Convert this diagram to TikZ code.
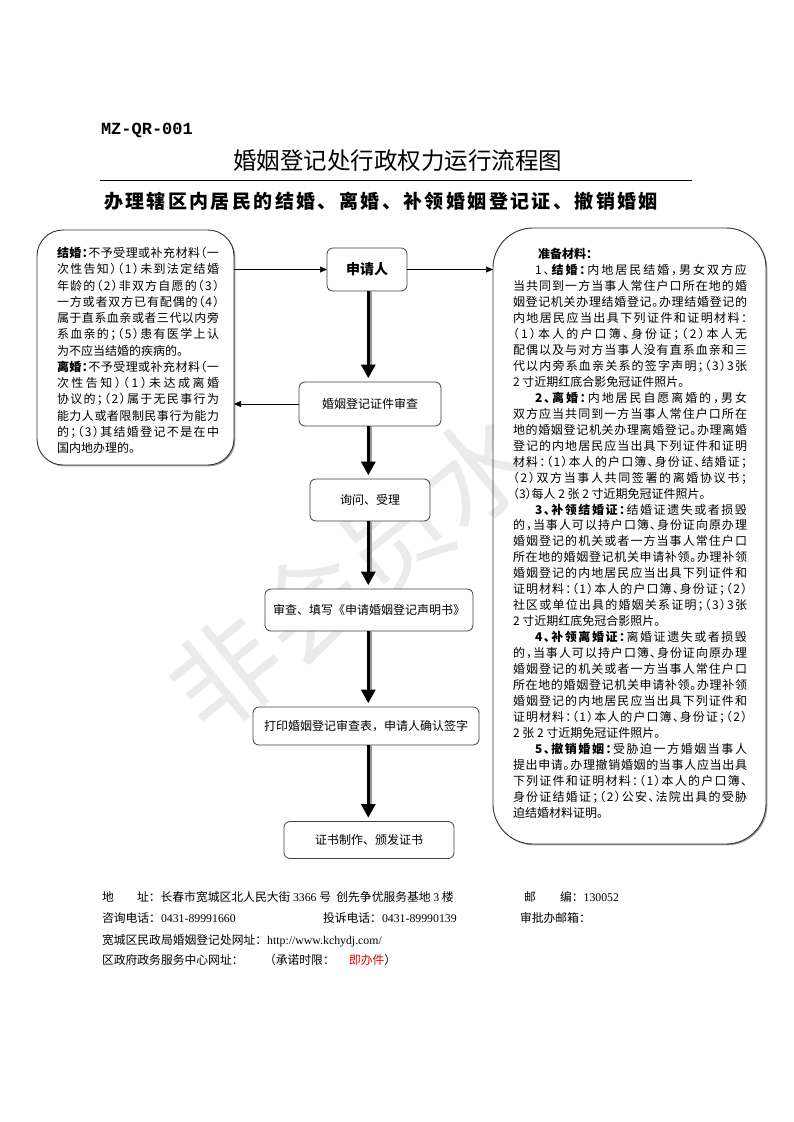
\documentclass[tikz,border=0pt]{standalone}
\usepackage{fontspec}
\setmainfont{Noto Sans CJK SC}
\newfontfamily\cjkj[RawFeature=+halt]{Noto Sans CJK SC}
\newfontfamily\serifl{Liberation Serif}
\newfontfamily\monof{Liberation Mono}
\usetikzlibrary{arrows.meta,calc,shadows}

\newdimen\jw
\makeatletter
\def\spr#1{\spr@a#1\spr@end}
\def\spr@end{\spr@endx}
\def\spr@endx{}
\def\spr@a#1{\ifx#1\spr@end\else#1\expandafter\spr@b\fi}
\def\spr@b#1{\ifx#1\spr@end\else\ifcat\noexpand#1\relax\else\hfil\fi#1\expandafter\spr@b\fi}
\makeatother
\newcommand\jrow[2][]{\hbox to \jw{#1\spr{#2}}}
\newcommand\lrow[1]{\hbox{#1}}

\begin{document}
\begin{tikzpicture}[x=1pt,y=-1pt,
  every node/.style={inner sep=0pt,outer sep=0pt},
  flowbox/.style={draw=black!75,line width=0.8pt,rounded corners=6pt,fill=white,align=center,font=\fontsize{12}{14}\selectfont},
  bigbox/.style={draw=black!80,line width=0.9pt,fill=white,drop shadow={shadow xshift=1.3pt,shadow yshift=-1.3pt,fill=black!40,opacity=1}},
  tarrow/.style={draw=black,line width=0.7pt,-{Triangle[width=6pt,length=7pt]}},
  barrow/.style={draw=black,line width=3.4pt,-{Triangle[width=15pt,length=13.5pt,line width=0pt]}},
  bshadow/.style={draw=black!40,line width=1.8pt},
  foot/.style={anchor=base west,font=\fontsize{11.8}{14}\selectfont},
  btext/.style={anchor=base west,align=left}
]
\useasboundingbox (0,0) rectangle (793,1122);
\fill[white] (0,0) rectangle (793,1122);

% header
\node[anchor=base west,font=\monof\bfseries\fontsize{17}{17}\selectfont] (code) at (101,134) {MZ-QR-001};
\node[anchor=base,font=\fontsize{23.5}{24}\selectfont] (title) at (397.5,169) {婚姻登记处行政权力运行流程图};
\draw[line width=0.8pt] (100,180) -- (692,180);
\node[anchor=base west] (sub) at (104,208.2) {\hbox to 554pt{\bfseries\fontsize{19}{19}\selectfont\spr{办理辖区内居民的结婚、离婚、补领婚姻登记证、撤销婚姻}}};

% big boxes
\node[bigbox,rounded corners=26pt,minimum width=197pt,minimum height=235pt] (lbox) at (135.5,347.5) {};
\node[bigbox,rounded corners=40pt,minimum width=273pt,minimum height=616pt] (rbox) at (629.5,536) {};

% watermark
\node[rotate=39,text=black,text opacity=0.08,font=\fontsize{108}{108}\selectfont] (wm) at (352,572) {非会员水};

% flow nodes
\node[flowbox,minimum width=80pt,minimum height=43pt,font=\bfseries\fontsize{14}{16}\selectfont] (app) at (367,269.5) {申请人};
\node[flowbox,minimum width=142pt,minimum height=44pt] (chk) at (370,404) {婚姻登记证件审查};
\node[flowbox,minimum width=120pt,minimum height=42pt] (acc) at (370,500) {询问、受理};
\node[flowbox,minimum width=208pt,minimum height=42pt] (fill) at (369,610) {审查、填写《申请婚姻登记声明书》};
\node[flowbox,minimum width=226pt,minimum height=38pt] (prt) at (366,726) {打印婚姻登记审查表，申请人确认签字};
\node[flowbox,minimum width=170pt,minimum height=37pt] (cert) at (369,840) {证书制作、颁发证书};

% thick arrows
\coordinate (ax) at (368.3,0);
\coordinate (sx) at (370.8,0);
\foreach \a/\b in {app/chk,chk/acc,acc/fill,fill/prt,prt/cert}{
  \draw[bshadow] (\a.south -| sx) -- ($(\b.north -| sx)+(0pt,17.5pt)$);
  \draw[barrow] (\a.south -| ax) -- ($(\b.north -| ax)+(0pt,4pt)$);
}

% thin arrows
\draw[tarrow] (app.west -| lbox.east) -- (app.west);
\draw[tarrow] (app.east) -- (app.east -| rbox.west);
\draw[tarrow] (chk.west) -- (chk.west -| lbox.east);

% left box text
\node[btext,font=\cjkj\fontsize{12}{16.25}\selectfont] (ltext) at (57,257.6) {\vtop{\jw=162pt\baselineskip=16.25pt
\jrow[\bfseries]{结婚：\mdseries 不予受理或补充材料（一}
\jrow{次性告知）（1）未到法定结婚}
\jrow{年龄的（2）非双方自愿的（3）}
\jrow{一方或者双方已有配偶的（4）}
\jrow{属于直系血亲或者三代以内旁}
\jrow{系血亲的；（5）患有医学上认}
\lrow{为不应当结婚的疾病的。}
\jrow[\bfseries]{离婚：\mdseries 不予受理或补充材料（一}
\jrow{次性告知）（1）未达成离婚}
\jrow{协议的；（2）属于无民事行为}
\jrow{能力人或者限制民事行为能力}
\jrow{的；（3）其结婚登记不是在中}
\lrow{国内地办理的。}}};

% right box text
\node[btext,font=\cjkj\fontsize{12}{15.97}\selectfont] (rtext) at (513,258.5) {\vtop{\jw=234pt\baselineskip=15.97pt
\lrow{\hskip25pt\bfseries 准备材料：}
\jrow[\hskip22pt]{1、\bfseries 结婚：\mdseries 内地居民结婚，男女双方应}
\jrow{当共同到一方当事人常住户口所在地的婚}
\jrow{姻登记机关办理结婚登记。办理结婚登记的}
\jrow{内地居民应当出具下列证件和证明材料：}
\jrow{（1）本人的户口簿、身份证；（2）本人无}
\jrow{配偶以及与对方当事人没有直系血亲和三}
\jrow{代以内旁系血亲关系的签字声明；（3）3张}
\lrow{2 寸近期红底合影免冠证件照片。}
\jrow[\hskip22pt\bfseries]{2、离婚：\mdseries 内地居民自愿离婚的，男女}
\jrow{双方应当共同到一方当事人常住户口所在}
\jrow{地的婚姻登记机关办理离婚登记。办理离婚}
\jrow{登记的内地居民应当出具下列证件和证明}
\jrow{材料：（1）本人的户口簿、身份证、结婚证；}
\jrow{（2）双方当事人共同签署的离婚协议书；}
\lrow{（3）每人 2 张 2 寸近期免冠证件照片。}
\jrow[\hskip22pt\bfseries]{3、补领结婚证：\mdseries 结婚证遗失或者损毁}
\jrow{的，当事人可以持户口簿、身份证向原办理}
\jrow{婚姻登记的机关或者一方当事人常住户口}
\jrow{所在地的婚姻登记机关申请补领。办理补领}
\jrow{婚姻登记的内地居民应当出具下列证件和}
\jrow{证明材料：（1）本人的户口簿、身份证；（2）}
\jrow{社区或单位出具的婚姻关系证明；（3）3张}
\lrow{2 寸近期红底免冠合影照片。}
\jrow[\hskip22pt\bfseries]{4、补领离婚证：\mdseries 离婚证遗失或者损毁}
\jrow{的，当事人可以持户口簿、身份证向原办理}
\jrow{婚姻登记的机关或者一方当事人常住户口}
\jrow{所在地的婚姻登记机关申请补领。办理补领}
\jrow{婚姻登记的内地居民应当出具下列证件和}
\jrow{证明材料：（1）本人的户口簿、身份证；（2）}
\lrow{2 张 2 寸近期免冠证件照片。}
\jrow[\hskip22pt\bfseries]{5、撤销婚姻：\mdseries 受胁迫一方婚姻当事人}
\jrow{提出申请。办理撤销婚姻的当事人应当出具}
\jrow{下列证件和证明材料：（1）本人的户口簿、}
\jrow{身份证结婚证；（2）公安、法院出具的受胁}
\lrow{迫结婚材料证明。}}};

% footer
\node[foot] (f1a) at (102,901.5) {地};
\node[foot] (f1b) at (137,901.5) {址：长春市宽城区北人民大街 {\serifl 3366} 号\ \ 创先争优服务基地 {\serifl 3} 楼};
\node[foot] (f1c) at (524,901.5) {邮};
\node[foot] (f1d) at (560,901.5) {编：{\serifl 130052}};
\node[foot] (f2a) at (102,922.5) {咨询电话：{\serifl 0431-89991660}};
\node[foot] (f2b) at (323,922.5) {投诉电话：{\serifl 0431-89990139}};
\node[foot] (f2c) at (520,922.5) {审批办邮箱：};
\node[foot] (f3) at (102,944.5) {宽城区民政局婚姻登记处网址：{\serifl http://www.kchydj.com/}};
\node[foot] (f4a) at (102,964.5) {区政府政务服务中心网址：};
\node[foot] (f4b) at (264,964.5) {（承诺时限：};
\node[foot] (f4c) at (349,964.5) {{\color[HTML]{E00000}即办件}）};
\end{tikzpicture}
\end{document}
